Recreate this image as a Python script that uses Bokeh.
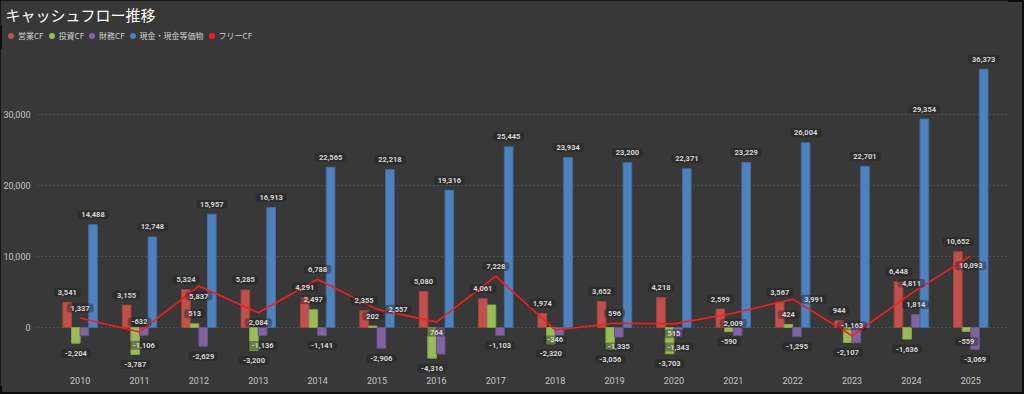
from bokeh.plotting import figure
from bokeh.layouts import column
from bokeh.models import (ColumnDataSource, FixedTicker, NumeralTickFormatter,
                          Legend, LegendItem)
from bokeh.core.properties import value
from bokeh.embed import file_html
from bokeh.resources import INLINE

# ---------------- data ----------------
years = [2010, 2011, 2012, 2013, 2014, 2015, 2016, 2017,
         2018, 2019, 2020, 2021, 2022, 2023, 2024, 2025]
operating_cf = [3541, 3155, 5324, 5285, 4291, 2355, 5080, 4061,
                1974, 3652, 4218, 2599, 3567, 944, 6448, 10652]
investing_cf = [-2204, -3787, 513, -3200, 2497, 202, -4316, 3167,
                -2320, -3056, -3703, -590, 424, -2107, -1636, -559]
financing_cf = [-1150, -1106, -2629, -1136, -1141, -2906, -3750, -1103,
                -1080, -1335, -1343, -1130, -1295, -2150, 1814, -3069]
cash = [14488, 12748, 15957, 16913, 22565, 22218, 19316, 25445,
        23934, 23200, 22371, 23229, 26004, 22701, 29354, 36373]
free_cf = [1337, -632, 5837, 2084, 6788, 2557, 764, 7228,
           -346, 596, 515, 2009, 3991, -1163, 4811, 10093]

series_names = ["営業CF", "投資CF", "財務CF", "現金・現金等価物"]
line_name = "フリーCF"
title_text = "キャッシュフロー推移"
y_ticks = [0, 10000, 20000, 30000]

# ---------------- style ----------------
colors = ["#c0504d", "#9bbb59", "#8064a2", "#4f81bd"]
edges = ["#a8423f", "#86a44a", "#6c538c", "#416fa6"]
line_color = "#ff1a1a"
BG = "#383838"
LABEL_TXT = "#d4d4d4"
# labels that the reference hides (series index -> years)
hidden = {1: [2017], 2: [2010, 2016, 2018, 2021, 2023]}
# placement of free-CF labels relative to its point
free_pos = ["above", "above", "below", "below", "above", "right", "below", "above",
            "below", "above", "below", "below", "right", "above", "above", "below"]

W = 0.145
offsets = [-1.5 * W, -0.5 * W, 0.5 * W, 1.5 * W]

# ---------------- header (title + legend) ----------------
head = figure(width=1008, height=48, output_backend="svg", toolbar_location=None,
              x_range=(0, 1), y_range=(0, 1), x_axis_location=None,
              y_axis_location=None, min_border=0)
head.frame_align = False
head.background_fill_alpha = 0
head.border_fill_color = BG
head.outline_line_color = None
head.grid.visible = False
head.title.text = title_text
head.title.text_font = "Noto Sans CJK JP"
head.title.text_font_size = "15px"
head.title.text_font_style = "normal"
head.title.text_color = "#ffffff"
head.title.align = "left"
head.title.offset = 5
head.title.standoff = 2

items = []
for name, c in zip(series_names + [line_name], colors + [line_color]):
    r = head.scatter(x=[float("nan")], y=[float("nan")], marker="circle",
                     fill_color=c, line_color=None)
    items.append(LegendItem(label=name, renderers=[r]))
legend = Legend(items=items, orientation="horizontal", location="top_left",
                label_text_font="Noto Sans CJK JP", label_text_font_size="8px",
                label_text_color="#cfcfcf", background_fill_alpha=0,
                border_line_color=None, glyph_width=15, glyph_height=15,
                label_standoff=0, spacing=0, padding=0, margin=3, label_height=10)
head.add_layout(legend, "center")

# ---------------- main chart ----------------
p = figure(width=1008, height=338, output_backend="svg", toolbar_location=None,
           x_range=(2009.282, 2025.635), y_range=(-6620, 39296),
           min_border_left=29, min_border_right=0, min_border_top=0,
           min_border_bottom=12)
p.background_fill_alpha = 0
p.border_fill_color = BG
p.outline_line_color = None

p.xaxis.ticker = FixedTicker(ticks=years)
p.xaxis.formatter = NumeralTickFormatter(format="0")
p.yaxis.ticker = FixedTicker(ticks=y_ticks)
p.yaxis.formatter = NumeralTickFormatter(format="0,0")
for ax in (p.xaxis, p.yaxis):
    ax.axis_line_color = None
    ax.major_tick_line_color = None
    ax.minor_tick_line_color = None
    ax.major_tick_out = 0
    ax.major_tick_in = 0
    ax.minor_tick_out = 0
    ax.minor_tick_in = 0
    ax.major_label_text_color = "#c4c4c4"
    ax.major_label_text_font = "Roboto"
    ax.major_label_text_font_size = "9px"
p.yaxis.major_label_standoff = 7
p.xaxis.major_label_standoff = 2
p.xgrid.visible = False
p.ygrid.ticker = FixedTicker(ticks=y_ticks)
p.ygrid.grid_line_color = "#6a6a6a"
p.ygrid.grid_line_dash = "1 3"
p.ygrid.grid_line_width = 1

all_series = [operating_cf, investing_cf, financing_cf, cash]

for k, vals in enumerate(all_series):
    xs = [y + offsets[k] for y in years]
    src = ColumnDataSource(dict(x=xs, top=vals))
    p.vbar(x="x", top="top", bottom=0, width=W, source=src,
           fill_color=colors[k], line_color=edges[k], line_width=1)

p.line(x=years, y=free_cf, line_color=line_color, line_width=1.6)

lx, ly, lt, lxo, lyo = [], [], [], [], []
for k, vals in enumerate(all_series):
    for y, v in zip(years, vals):
        if y in hidden.get(k, []):
            continue
        lx.append(y + offsets[k])
        ly.append(v)
        lt.append(f"{v:,}")
        lxo.append(0)
        lyo.append(-10 if v >= 0 else 10)
for y, v, pos in zip(years, free_cf, free_pos):
    lx.append(y)
    ly.append(v)
    lt.append(f"{v:,}")
    if pos == "above":
        lxo.append(0); lyo.append(-10)
    elif pos == "below":
        lxo.append(0); lyo.append(10)
    else:
        lxo.append(21); lyo.append(0)

lsrc = ColumnDataSource(dict(x=lx, y=ly, text=lt, xo=lxo, yo=lyo))
p.text(x="x", y="y", text="text", source=lsrc, x_offset="xo", y_offset="yo",
       text_align="center", text_baseline="middle",
       text_font=value("Roboto"), text_font_size="7.5px", text_font_style="bold",
       text_color=LABEL_TXT,
       background_fill_color="#1e1e1e", background_fill_alpha=0.4,
       padding=(4, 2), border_radius=3)

layout = column(head, p, spacing=0)
html = file_html(layout, INLINE)
css = ("<style>html{background:%s;min-height:100%%;box-shadow:inset 0 0 0 2px #0c0c0c;}"
       "body{background:transparent;}</style>" % BG)
html = html.replace("</head>", css + "</head>", 1)
open("out.html", "w").write(html)
